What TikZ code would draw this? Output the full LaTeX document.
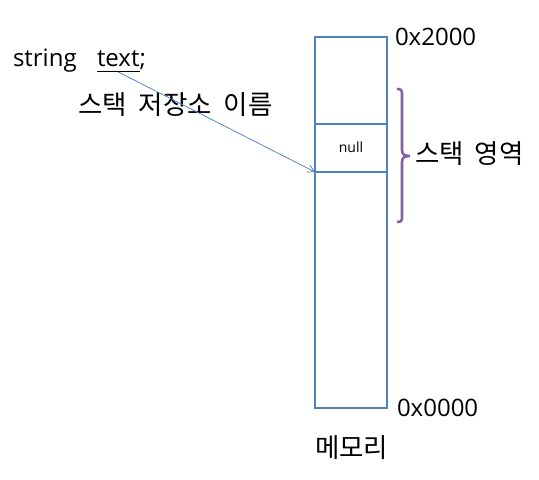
\documentclass[tikz,border=0pt]{standalone}
\usepackage{fontspec}
\setmainfont{Open Sans}
\newfontfamily\kr{Noto Sans CJK KR}
\usetikzlibrary{arrows.meta}
\definecolor{memblue}{HTML}{4F81BD}
\definecolor{bracepurple}{HTML}{8064A2}
\begin{document}
\begin{tikzpicture}[x=1pt,y=-1pt,
  cell/.style={draw=memblue,line width=2.6pt,minimum width=72pt,anchor=north west,inner sep=0pt,outer sep=0pt},
  lbl/.style={inner sep=0pt,outer sep=0pt,font=\fontsize{24pt}{28pt}\selectfont},
  krlbl/.style={inner sep=0pt,outer sep=0pt,font=\fontsize{26.5pt}{30pt}\selectfont\kr},
  pointer/.style={memblue,line width=0.75pt,-{Straight Barb[length=7pt,width=8pt]}},
  bracestyle/.style={bracepurple,line width=2.6pt}
  ]
\useasboundingbox (0,0) rectangle (539,480);
% memory column
\node[cell,minimum height=87pt] (c1) at (315,37) {};
\node[cell,minimum height=48pt] (c2) at (c1.south west) {};
\node[cell,minimum height=236pt] (c3) at (c2.south west) {};
\node[inner sep=0pt,font=\fontsize{14pt}{16pt}\selectfont,anchor=base] (nul) at (351,152) {null};
% labels
\node[lbl,anchor=base west] (a2000) at (395,45) {0x2000};
\node[lbl,anchor=base west] (a0000) at (397,416) {0x0000};
\node[krlbl,anchor=west] (mem) at (315,448) {메모리};
\node[krlbl,anchor=west] (stk) at (415,154) {스택\hspace{11pt}영역};
\node[krlbl,anchor=west] (name) at (78,105) {스택\hspace{12pt}저장소\hspace{12pt}이름};
\node[lbl,anchor=base west] (str) at (13,66) {string};
\node[lbl,anchor=base west] (txt) at (97,66) {text};
\node[lbl,anchor=base west] (semi) at (txt.base east) {;};
\draw[line width=1pt] ([yshift=-5pt]txt.base west) -- ([yshift=-5pt]txt.base east);
% pointer
\draw[pointer] ([yshift=-6pt]txt.base) -- (c3.north west);
% brace
\draw[bracestyle] (397,89) .. controls (401,89) and (402,90) .. (402,94) -- (402,150)
  .. controls (402,154) and (404,156) .. (410,156)
  .. controls (404,156) and (402,158) .. (402,162) -- (402,217)
  .. controls (402,221) and (401,222) .. (397,222);
\end{tikzpicture}
\end{document}
